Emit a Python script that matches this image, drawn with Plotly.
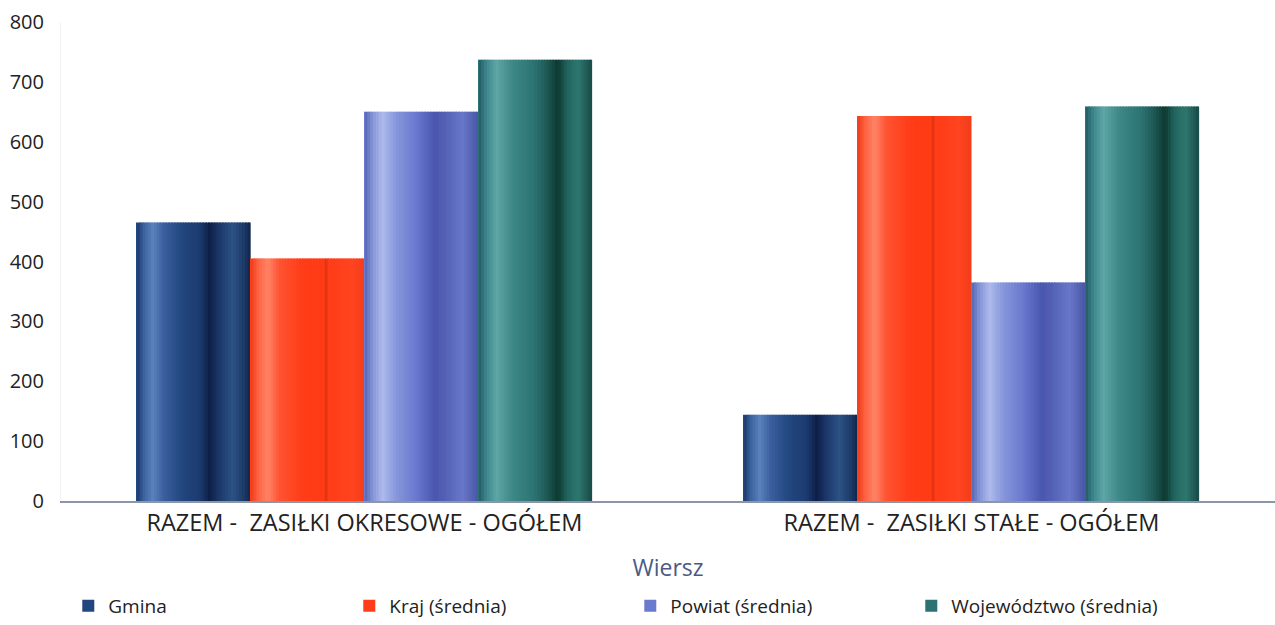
import plotly.graph_objects as go

# Data
categories = ["RAZEM -\u00a0 ZASIŁKI OKRESOWE - OGÓŁEM", "RAZEM -\u00a0 ZASIŁKI STAŁE - OGÓŁEM"]
series_names = ["Gmina", "Kraj (średnia)", "Powiat (średnia)", "Województwo (średnia)"]
gmina = [465, 144]
kraj = [405, 643]
powiat = [650, 365]
wojewodztwo = [737, 659]
y_ticks = [0, 100, 200, 300, 400, 500, 600, 700, 800]

series_values = [gmina, kraj, powiat, wojewodztwo]

# Cylinder-like shading: colour stops across the width of each bar
shading = [
    [(0.00, "#1a3768"), (0.06, "#3c62a0"), (0.14, "#5b82bb"), (0.24, "#395e9c"),
     (0.40, "#22467e"), (0.55, "#1c3b70"), (0.64, "#0e1f46"), (0.72, "#1b3769"),
     (0.84, "#2c5283"), (0.94, "#1d3a68"), (1.00, "#11254a")],
    [(0.00, "#ee3c1a"), (0.07, "#ff6544"), (0.15, "#ff8468"), (0.25, "#ff5332"),
     (0.45, "#ff3d18"), (0.64, "#ff3b15"), (0.655, "#cc2a10"), (0.67, "#ff3c16"),
     (0.90, "#ff4420"), (1.00, "#f23c1a")],
    [(0.00, "#5464b4"), (0.07, "#8494d6"), (0.16, "#aebaec"), (0.28, "#8696da"),
     (0.45, "#6a7acf"), (0.62, "#4a56ae"), (0.72, "#5563b6"), (0.86, "#6878c8"),
     (1.00, "#4856a6")],
    [(0.00, "#225a64"), (0.07, "#3c868c"), (0.16, "#5fa6a6"), (0.30, "#3d8886"),
     (0.50, "#2c7272"), (0.62, "#1c544f"), (0.70, "#0d3931"), (0.78, "#21645e"),
     (0.88, "#2d786f"), (1.00, "#194846")],
]
legend_colors = ["#22467e", "#ff3d18", "#6a7acf", "#2c7272"]


def hex_to_rgb(h):
    h = h.lstrip("#")
    return tuple(int(h[i:i + 2], 16) for i in (0, 2, 4))


def colour_at(stops, t):
    for (t0, c0), (t1, c1) in zip(stops[:-1], stops[1:]):
        if t0 <= t <= t1:
            f = 0 if t1 == t0 else (t - t0) / (t1 - t0)
            a, b = hex_to_rgb(c0), hex_to_rgb(c1)
            r, g, bb = (round(a[i] + (b[i] - a[i]) * f) for i in range(3))
            return f"rgb({r},{g},{bb})"
    r, g, bb = hex_to_rgb(stops[-1][1])
    return f"rgb({r},{g},{bb})"


fig = go.Figure()

group_width = 0.75
slot = group_width / len(series_names)
n_strips = 40
strip = slot / n_strips

for i, (name, values) in enumerate(zip(series_names, series_values)):
    slot_start = -group_width / 2 + i * slot
    slot_end = slot_start + slot
    for k in range(n_strips):
        t = (k + 0.5) / n_strips
        start = slot_start + k * strip
        w = min(strip * 1.6, slot_end - start)
        fig.add_trace(go.Bar(
            x=categories, y=values, name=name,
            offset=start, width=w,
            marker=dict(color=colour_at(shading[i], t), line=dict(width=0)),
            legendgroup=name, showlegend=False, hoverinfo="skip",
        ))
    # legend entry carrying the series values
    fig.add_trace(go.Bar(
        x=categories, y=values, name=name,
        offset=slot_start, width=0.0,
        marker=dict(color=legend_colors[i], line=dict(width=0)),
        legendgroup=name, showlegend=True,
    ))

font_family = "Open Sans, DejaVu Sans, sans-serif"

fig.update_layout(
    width=1275, height=625,
    margin=dict(l=61, r=0, t=22, b=123),
    barmode="overlay",
    plot_bgcolor="white", paper_bgcolor="white",
    font=dict(family=font_family, size=19, color="#222222"),
    showlegend=True,
    legend=dict(
        orientation="h", x=0.006, xanchor="left", y=-0.218, yanchor="middle",
        entrywidth=236, entrywidthmode="pixels",
        font=dict(size=19, color="#222222"),
        traceorder="normal",
    ),
    xaxis=dict(
        type="category", categoryorder="array", categoryarray=categories,
        showline=True, linecolor="#8c96aa", linewidth=1.5,
        showgrid=False, ticks="", zeroline=False,
        tickfont=dict(size=23.5, color="#222222"),
        title=dict(text="Wiersz", font=dict(size=23, color="#4a5a86"), standoff=23),
        range=[-0.5, 1.5],
    ),
    yaxis=dict(
        range=[0, 800], tickvals=y_ticks,
        showgrid=False, zeroline=False, showline=True, linecolor="#f2f2f2", linewidth=1,
        ticks="", ticklabelstandoff=12,
        tickfont=dict(size=20, color="#222222"),
    ),
)

fig.write_html("out.html")
